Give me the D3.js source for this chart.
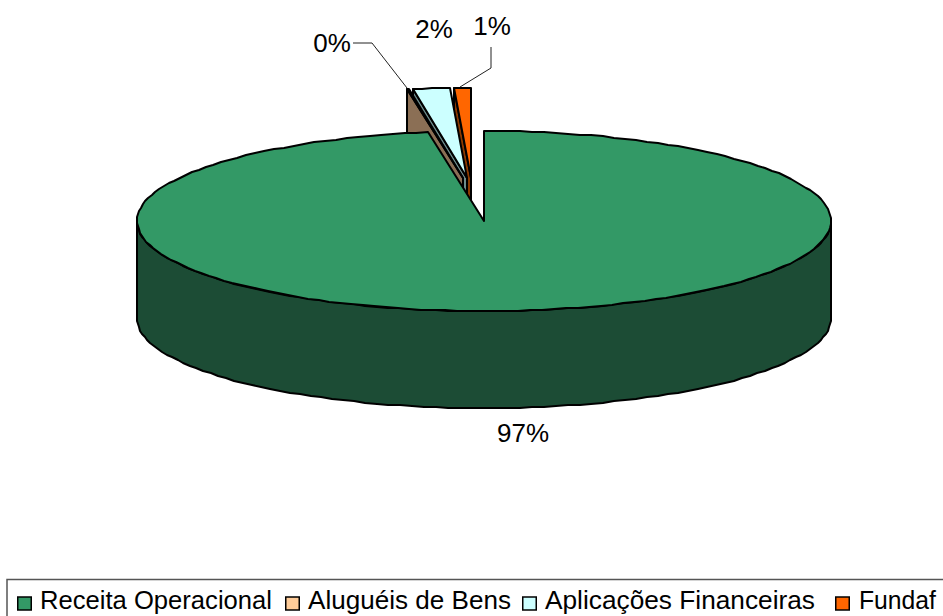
<!DOCTYPE html>
<html><head><meta charset="utf-8">
<script src="https://cdn.jsdelivr.net/npm/d3@7"></script>
<style>html,body{margin:0;background:#fff}svg{display:block}text{font-family:"Liberation Sans",Arial,sans-serif;fill:#000}</style>
</head><body><svg id="c" width="943" height="616"></svg>
<script>
const categories = ["Receita Operacional","Aluguéis de Bens","Aplicações Financeiras","Fundaf"];
const values = [97.44,0.08,1.70,0.78];
const valueLabels = ["97%","0%","2%","1%"];
const topColors = ["#339966","#FFCC99","#CCFFFF","#FF6600"];
const wallColors = ["#1C4C35","#8B6F55","#6E8C8C","#8C3A00"];
const explodeX = [0,-21,-17,-13];
const explodeY = [0,-43,-43,-43];
const legendX = [17,285,522,835];
const legendWidths = [232,203,270,77];

const svg = d3.select("#c");
const cx=484, cy=221, rx=347, ry=90, depth=97;
const arcs = d3.pie().sort(null).value(d=>d)(values);
const px = d3.scaleLinear().domain([-1,1]).range([cx-rx,cx+rx]);
const py = d3.scaleLinear().domain([-1,1]).range([cy-ry,cy+ry]);
const pt=(a,i,dz=0)=>[Math.round(px(Math.sin(a))+explodeX[i]), Math.round(py(-Math.cos(a))+explodeY[i]+dz)];
const line=d3.line();
function rim(a0,a1,i,dz=0){const n=Math.max(2,Math.ceil((a1-a0)/0.035));return d3.range(n+1).map(k=>pt(a0+(a1-a0)*k/n,i,dz));}
function shape(g,points,fill){
  return g.append("path").attr("d",line(points)+"Z").attr("fill",fill)
    .attr("stroke","#000").attr("stroke-width",2).attr("stroke-linejoin","round");
}
const g=svg.append("g");
// back to front: exploded slices from the rightmost inward, then the big slice
[3,2,1,0].forEach(i=>{
  const a=arcs[i]; const apex=[px(0)+explodeX[i],py(0)+explodeY[i]];
  const apexLow=[apex[0],apex[1]+depth];
  if(i>0){
    const e=pt(a.startAngle,i);
    shape(g,[e,apex,apexLow,[e[0],e[1]+depth]],wallColors[i]);
  } else {
    const front=rim(Math.PI/2,3*Math.PI/2,0);
    const back=rim(Math.PI/2,3*Math.PI/2,0,depth).reverse();
    shape(g,front.concat(back),wallColors[0]);
  }
  shape(g,[apex].concat(rim(a.startAngle,a.endAngle,i)),topColors[i]);
});
// leader lines
const leaders=[[[353,43],[372,43],[407,88]],[[491,47],[491,68],[460,87]]];
leaders.forEach(l=>g.append("path").attr("d",line(l)).attr("fill","none").attr("stroke","#222").attr("stroke-width",1));
// labels
const labelPos=[[523,433],[332,43],[434,29],[492,26]];
svg.selectAll("text.v").data(valueLabels).join("text").attr("class","v")
 .attr("x",(d,i)=>labelPos[i][0]).attr("y",(d,i)=>labelPos[i][1]).attr("dy","0.36em")
 .attr("text-anchor","middle").attr("font-size",26).text(d=>d);
// legend
svg.append("rect").attr("x",7).attr("y",579.5).attr("width",960).attr("height",60).attr("fill","#fff").attr("stroke","#555").attr("stroke-width",1.5);
const lg=svg.selectAll("g.l").data(categories).join("g").attr("class","l").attr("transform",(d,i)=>`translate(${legendX[i]},603)`);
lg.append("rect").attr("x",0.75).attr("y",-6).attr("width",13.5).attr("height",13).attr("fill",(d,i)=>topColors[i]).attr("stroke","#000").attr("stroke-width",1.5);
lg.append("text").attr("x",(d,i)=>i===3?24:23).attr("y",-3).attr("dy","0.36em").attr("font-size",26)
  .attr("textLength",(d,i)=>legendWidths[i]).attr("lengthAdjust","spacingAndGlyphs").text(d=>d);
</script></body></html>
